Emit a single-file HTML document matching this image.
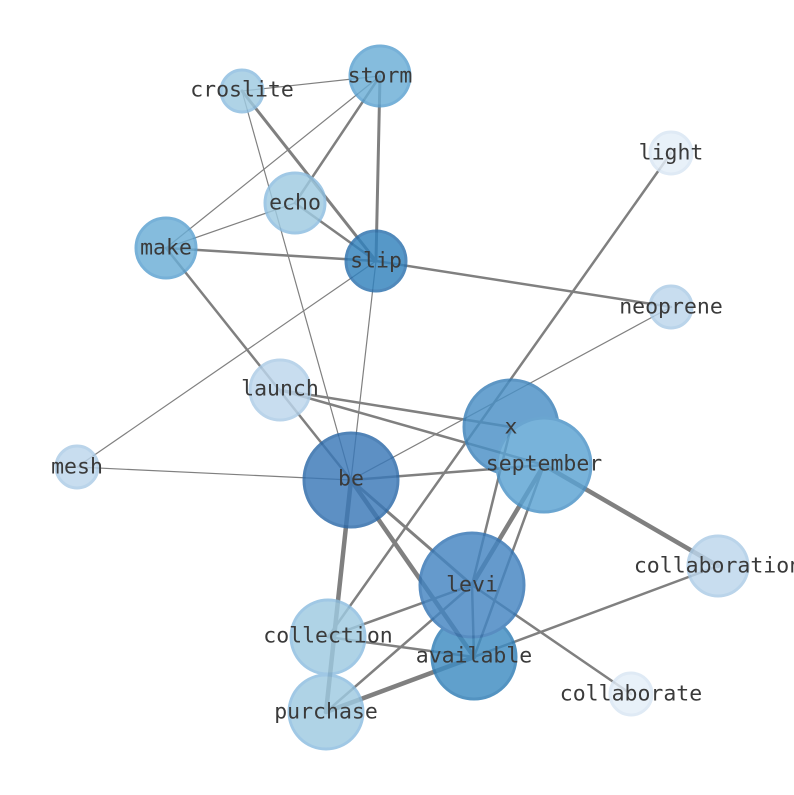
<!DOCTYPE html>
<html><head><meta charset="utf-8"><style>
html,body{margin:0;padding:0;background:#fff;}
svg text{font-family:"DejaVu Sans Mono","Liberation Mono",monospace;font-size:21.5px;fill:#3a3a3a;text-anchor:middle;dominant-baseline:central;}
</style></head><body>
<svg width="794" height="790" viewBox="0 0 794 790" xmlns="http://www.w3.org/2000/svg">
<g stroke="#808080" fill="none" stroke-linecap="round">
<line x1="242" y1="91" x2="380" y2="76" stroke-width="1.2"/>
<line x1="242" y1="91" x2="376" y2="261" stroke-width="3"/>
<line x1="242" y1="91" x2="351" y2="480" stroke-width="1.2"/>
<line x1="380" y1="76" x2="295" y2="203" stroke-width="2.5"/>
<line x1="380" y1="76" x2="376" y2="261" stroke-width="3"/>
<line x1="380" y1="76" x2="166" y2="248" stroke-width="1.2"/>
<line x1="166" y1="248" x2="295" y2="203" stroke-width="1.2"/>
<line x1="166" y1="248" x2="376" y2="261" stroke-width="2.5"/>
<line x1="166" y1="248" x2="351" y2="480" stroke-width="2.5"/>
<line x1="295" y1="203" x2="376" y2="261" stroke-width="2.5"/>
<line x1="376" y1="261" x2="671" y2="307" stroke-width="2.5"/>
<line x1="376" y1="261" x2="77" y2="467" stroke-width="1.2"/>
<line x1="376" y1="261" x2="351" y2="480" stroke-width="1.2"/>
<line x1="671" y1="153" x2="328" y2="637" stroke-width="2.5"/>
<line x1="671" y1="307" x2="351" y2="480" stroke-width="1.2"/>
<line x1="280" y1="390" x2="511" y2="427" stroke-width="2.5"/>
<line x1="280" y1="390" x2="544" y2="465" stroke-width="2.5"/>
<line x1="77" y1="467" x2="351" y2="480" stroke-width="1.2"/>
<line x1="351" y1="480" x2="544" y2="465" stroke-width="2.5"/>
<line x1="351" y1="480" x2="326" y2="712" stroke-width="4.5"/>
<line x1="351" y1="480" x2="472" y2="585" stroke-width="3"/>
<line x1="351" y1="480" x2="474" y2="657" stroke-width="4.5"/>
<line x1="544" y1="465" x2="472" y2="585" stroke-width="4.5"/>
<line x1="544" y1="465" x2="474" y2="657" stroke-width="2.5"/>
<line x1="544" y1="465" x2="718" y2="566" stroke-width="4.5"/>
<line x1="511" y1="427" x2="472" y2="585" stroke-width="2.5"/>
<line x1="472" y1="585" x2="328" y2="637" stroke-width="2.5"/>
<line x1="472" y1="585" x2="326" y2="712" stroke-width="2.5"/>
<line x1="472" y1="585" x2="631" y2="694" stroke-width="2.5"/>
<line x1="472" y1="585" x2="474" y2="657" stroke-width="2.5"/>
<line x1="328" y1="637" x2="474" y2="657" stroke-width="2.5"/>
<line x1="326" y1="712" x2="474" y2="657" stroke-width="4.5"/>
<line x1="326" y1="712" x2="718" y2="566" stroke-width="2.5"/>
</g>
<g stroke-width="3" opacity="0.82">
<circle cx="242" cy="91" r="21" fill="#9ecae1" stroke="#8cbde0"/>
<circle cx="380" cy="76" r="30" fill="#6baed6" stroke="#5aa0d0"/>
<circle cx="671" cy="153" r="21" fill="#e4eef8" stroke="#d8e6f4"/>
<circle cx="295" cy="203" r="30" fill="#9ecae1" stroke="#8cbde0"/>
<circle cx="166" cy="248" r="30" fill="#6baed6" stroke="#5aa0d0"/>
<circle cx="376" cy="261" r="30" fill="#3182bd" stroke="#2a70ad"/>
<circle cx="671" cy="307" r="21" fill="#bcd6ec" stroke="#abcbe6"/>
<circle cx="280" cy="390" r="30" fill="#bcd6ec" stroke="#abcbe6"/>
<circle cx="77" cy="467" r="21" fill="#bcd6ec" stroke="#abcbe6"/>
<circle cx="511" cy="427" r="47" fill="#4a90c6" stroke="#3a80b8"/>
<circle cx="544" cy="465" r="47" fill="#5ba3d3" stroke="#4a92c6"/>
<circle cx="351" cy="480" r="47" fill="#3a78b8" stroke="#2a68a8"/>
<circle cx="718" cy="566" r="30" fill="#bcd6ec" stroke="#abcbe6"/>
<circle cx="474" cy="657" r="42" fill="#3e8cc2" stroke="#2e7cb4"/>
<circle cx="472" cy="585" r="52" fill="#4485c2" stroke="#3475b4"/>
<circle cx="328" cy="637" r="37" fill="#9ecae1" stroke="#8cbde0"/>
<circle cx="631" cy="694" r="21" fill="#e4eef8" stroke="#d8e6f4"/>
<circle cx="326" cy="712" r="37" fill="#9ecae1" stroke="#8cbde0"/>
</g>
<text x="242" y="90">croslite</text>
<text x="380" y="76">storm</text>
<text x="671" y="153">light</text>
<text x="295" y="203">echo</text>
<text x="166" y="248">make</text>
<text x="376" y="261">slip</text>
<text x="671" y="307">neoprene</text>
<text x="280" y="389">launch</text>
<text x="511" y="427">x</text>
<text x="77" y="467">mesh</text>
<text x="351" y="479">be</text>
<text x="544" y="464">september</text>
<text x="718" y="566">collaboration</text>
<text x="472" y="585">levi</text>
<text x="328" y="636">collection</text>
<text x="474" y="656">available</text>
<text x="631" y="694">collaborate</text>
<text x="326" y="712">purchase</text>
</svg>
</body></html>
